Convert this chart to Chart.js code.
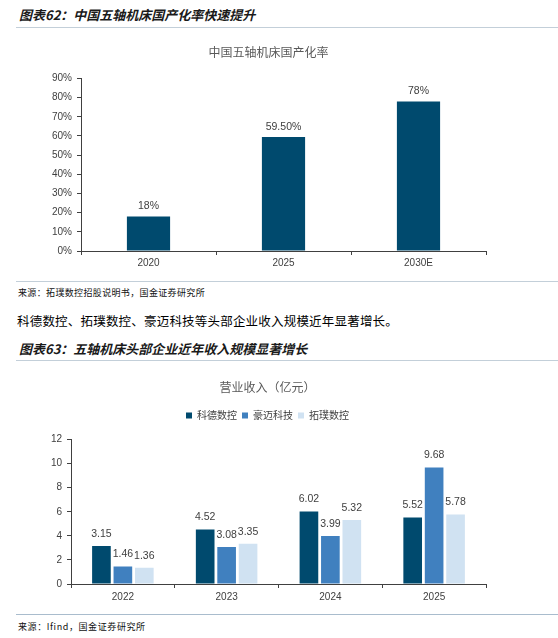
<!DOCTYPE html>
<html lang="zh-CN">
<head>
<meta charset="utf-8">
<script src="https://cdn.jsdelivr.net/npm/chart.js@4.4.1/dist/chart.umd.min.js"></script>
<style>
  body { margin: 0; width: 558px; height: 638px; background: #fff; position: relative; overflow: hidden; font-family: "Noto Sans CJK SC", sans-serif; }
  .abs { position: absolute; white-space: nowrap; }
  .head { left: 19px; font-size: 13px; line-height: 18px; font-weight: bold; font-style: italic; color: #1a1a1a; }
  .rule { left: 16px; right: 0; height: 1px; background: #c3cfd9; }
  .src { left: 18px; font-size: 9px; line-height: 12px; color: #111; letter-spacing: 0.35px; }
  .body { left: 17px; font-size: 12.5px; line-height: 18px; color: #000; letter-spacing: 0.2px; }
  .box { left: 0; width: 558px; }
</style>
</head>
<body>
<div class="abs head" style="top:6px">图表62：中国五轴机床国产化率快速提升</div>
<div class="abs rule" style="top:27px"></div>
<div class="abs box" style="top:36px;height:244px"><canvas id="rateChart"></canvas></div>
<div class="abs rule" style="top:281px"></div>
<div class="abs src" style="top:287px">来源：拓璞数控招股说明书，国金证券研究所</div>
<div class="abs body" style="top:312px">科德数控、拓璞数控、豪迈科技等头部企业收入规模近年显著增长。</div>
<div class="abs head" style="top:340px">图表63：五轴机床头部企业近年收入规模显著增长</div>
<div class="abs rule" style="top:360px"></div>
<div class="abs box" style="top:370px;height:242px"><canvas id="revenueChart"></canvas></div>
<div class="abs rule" style="top:614px;background:#a9bccd"></div>
<div class="abs src" style="top:621px;letter-spacing:0.6px">来源：Ifind，国金证券研究所</div>

<script>
// chart 1 - localisation rate
const rateYears = ['2020', '2025', '2030E'];
const rateValues = [18, 59.5, 78];
const rateTicks = [0, 10, 20, 30, 40, 50, 60, 70, 80, 90];

// chart 2 - revenue, 亿元
const revYears = ['2022', '2023', '2024', '2025'];
const kedeRev = [3.15, 4.52, 6.02, 5.52];
const haomaiRev = [1.46, 3.08, 3.99, 9.68];
const tuopuRev = [1.36, 3.35, 5.32, 5.78];
const revTicks = [0, 2, 4, 6, 8, 10, 12];

const axisColor = '#404040';
Chart.defaults.font.family = '"Liberation Sans", "Noto Sans CJK SC", sans-serif';
Chart.defaults.font.size = 10;
Chart.defaults.color = '#404040';

// draws the number above each bar
function valueLabels(fmt, gap) {
  return {
    id: 'valueLabels',
    afterDatasetsDraw(chart) {
      const ctx = chart.ctx;
      ctx.save();
      ctx.font = '10.5px "Liberation Sans", sans-serif';
      ctx.fillStyle = '#404040';
      ctx.textAlign = 'center';
      ctx.textBaseline = 'middle';
      chart.data.datasets.forEach((ds, i) => {
        chart.getDatasetMeta(i).data.forEach((bar, j) => {
          ctx.fillText(fmt(ds.data[j]), bar.x, bar.y - gap);
        });
      });
      ctx.restore();
    }
  };
}

function axes(ticks, tickFmt, yWidth, xHeight, xPad) {
  return {
    x: {
      grid: { display: true, drawOnChartArea: false, tickLength: 4, color: axisColor },
      border: { display: true, color: axisColor },
      ticks: { padding: xPad, color: '#404040' },
      afterFit(s) { s.height = xHeight; }
    },
    y: {
      min: ticks[0],
      max: ticks[ticks.length - 1],
      afterBuildTicks(s) { s.ticks = ticks.map(v => ({ value: v })); },
      grid: { display: true, drawOnChartArea: false, tickLength: 4, color: axisColor },
      border: { display: true, color: axisColor },
      ticks: { padding: 5, color: '#404040', callback: tickFmt },
      afterFit(s) { s.width = yWidth; }
    }
  };
}

function renderRateChart() {
  const ctx = document.getElementById('rateChart');
  new Chart(ctx, {
    type: 'bar',
    data: {
      labels: rateYears,
      datasets: [{
        label: '国产化率',
        data: rateValues,
        backgroundColor: '#004A6E',
        categoryPercentage: 0.8,
        barPercentage: 0.4
      }]
    },
    options: {
      responsive: true,
      maintainAspectRatio: false,
      animation: false,
      layout: { padding: { left: 51, right: 72, top: 0, bottom: 0 } },
      plugins: {
        legend: { display: false },
        tooltip: { enabled: false },
        title: {
          display: true,
          text: '中国五轴机床国产化率',
          color: '#595959',
          font: { size: 12, weight: 'normal', family: '"Noto Sans CJK SC", sans-serif' },
          padding: { top: 9, bottom: 19 }
        }
      },
      scales: axes(rateTicks, v => v + '%', 30, 29, 2)
    },
    plugins: [valueLabels(v => Number.isInteger(v) ? v + '%' : v.toFixed(2) + '%', 10)]
  });
}

function renderRevenueChart() {
  const ctx = document.getElementById('revenueChart');
  const common = { categoryPercentage: 0.62, barPercentage: 0.87 };
  new Chart(ctx, {
    type: 'bar',
    data: {
      labels: revYears,
      datasets: [
        Object.assign({ label: '科德数控', data: kedeRev, backgroundColor: '#004A6E' }, common),
        Object.assign({ label: '豪迈科技', data: haomaiRev, backgroundColor: '#4080BF' }, common),
        Object.assign({ label: '拓璞数控', data: tuopuRev, backgroundColor: '#D0E2F2' }, common)
      ]
    },
    options: {
      responsive: true,
      maintainAspectRatio: false,
      animation: false,
      layout: { padding: { left: 49, right: 72, top: 0, bottom: 0 } },
      plugins: {
        tooltip: { enabled: false },
        title: {
          display: true,
          text: '营业收入（亿元）',
          color: '#595959',
          font: { size: 12, weight: 'normal', family: '"Noto Sans CJK SC", sans-serif' },
          padding: { top: 10, bottom: 11 }
        },
        legend: {
          display: true,
          position: 'top',
          labels: {
            boxWidth: 6,
            boxHeight: 6,
            padding: 5,
            color: '#404040',
            font: { size: 10, family: '"Noto Sans CJK SC", sans-serif' }
          }
        },
        // empty subtitle used as a spacer between legend and plot
        subtitle: {
          display: true,
          text: '',
          weight: 500,
          font: { size: 1 },
          padding: { top: 0, bottom: 8 }
        }
      },
      scales: axes(revTicks, v => v, 22, 28, 3)
    },
    plugins: [valueLabels(v => v.toFixed(2), 12)]
  });
}

renderRateChart();
renderRevenueChart();
</script>
</body>
</html>
